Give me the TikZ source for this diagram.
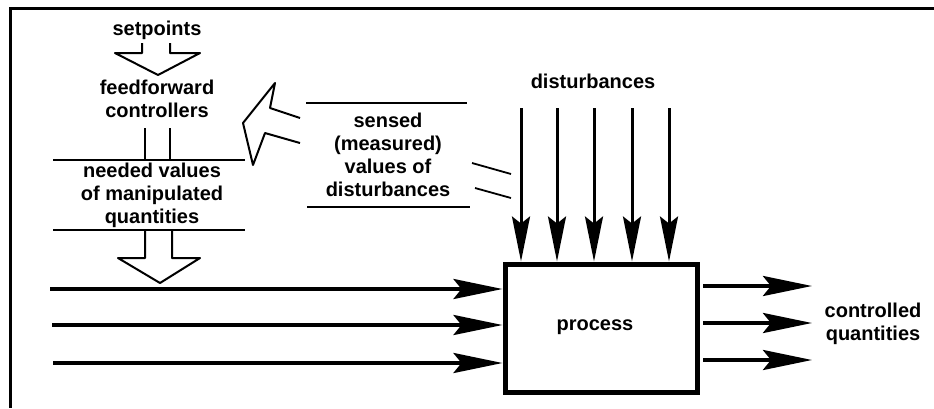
\documentclass[tikz,border=0pt]{standalone}
\usepackage{fontspec}
\setmainfont{Liberation Sans}
\usetikzlibrary{arrows.meta}
\begin{document}
\begin{tikzpicture}[x=1pt,y=-1pt,
  lbl/.style={inner sep=0pt, align=center, font=\fontsize{20}{23}\selectfont\bfseries},
  thin line/.style={line width=1.8pt},
  hollow/.style={line width=2pt, line join=round},
  bigarr/.style={line width=4pt, -{Stealth[length=49pt,width=20pt,inset=8pt]}},
  disarr/.style={line width=3pt, -{Stealth[length=45pt,width=18pt,inset=7pt]}}]
\useasboundingbox (0,0) rectangle (934,408);
% frame (top and left edges)
\draw[line width=3pt] (934,8) -- (10,8) -- (10,408);

% texts
\node[lbl, anchor=base] (setp) at (157,35) {setpoints};
\node[lbl] (ffc) at (157,99) {feedforward\\controllers};
\node[lbl] (need) at (152,195) {needed values\\of manipulated\\quantities};
\node[lbl] (sens) at (388,154.5) {sensed\\(measured)\\values of\\disturbances};
\node[lbl, anchor=base] (dist) at (593,88) {disturbances};
\node[lbl] (ctrl) at (873,324) {controlled\\quantities};

% process box
\node[draw, line width=5pt, minimum width=192pt, minimum height=128pt, inner sep=0pt] (proc) at (601,328) {};
\node[lbl, anchor=base] (proclbl) at (595,330) {process};

% hollow arrow setpoints -> controllers
\draw[hollow] (142,43) -- (142,53) -- (115,53) -- (158,75) -- (200,53) -- (170,53) -- (170,43);
% vertical connectors controllers -> needed values
\draw[thin line] (145,128) -- (145,160);
\draw[thin line] (170,128) -- (170,160);
% horizontal rules
\draw[thin line] (53,160) -- (245,160);
\draw[thin line] (53,230) -- (245,230);
% hollow arrow down to inputs
\draw[hollow] (145,230) -- (145,258) -- (118,258) -- (160,283) -- (200,258) -- (172,258) -- (172,230);

% sensed rules
\draw[thin line] (306,103) -- (467,103);
\draw[thin line] (307,207) -- (470,207);
% slanted connector marks
\draw[thin line] (472,163) -- (511,174);
\draw[thin line] (475,188) -- (511,198);
% big hollow arrow pointing to feedforward controllers
\draw[hollow] (300,118) -- (270,108) -- (275,83) -- (243,123) -- (253,165) -- (265,133) -- (300,143);

% disturbance arrows
\foreach \i/\x in {1/521,2/557,3/594,4/632,5/669}{
  \coordinate (d\i) at (\x,108);
  \draw[disarr] (d\i) -- (d\i |- proc.north);
}

% input arrows
\coordinate (in1) at (50,289);
\coordinate (in2) at (52,325);
\coordinate (in3) at (53,363);
\foreach \i in {1,2,3}{
  \draw[bigarr] (in\i) -- (in\i -| proc.west);
}

% output arrows
\coordinate (o1s) at (703,286); \coordinate (o1e) at (812,286);
\coordinate (o2s) at (703,323); \coordinate (o2e) at (812,323);
\coordinate (o3s) at (703,360); \coordinate (o3e) at (812,360);
\foreach \i in {1,2,3}{
  \draw[bigarr] (o\i s) -- (o\i e);
}
\end{tikzpicture}
\end{document}
